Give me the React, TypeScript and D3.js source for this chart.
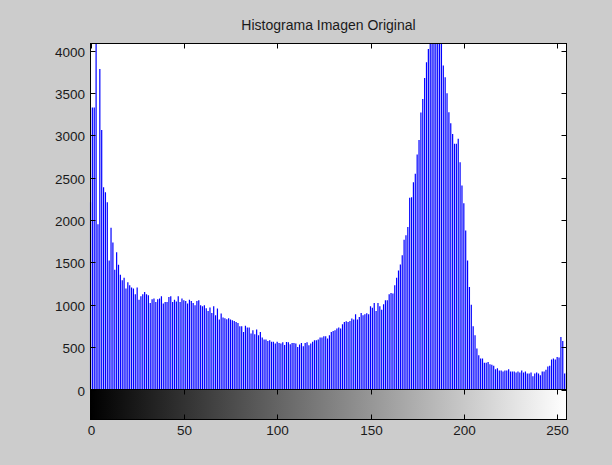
import React from 'react';
import * as d3 from 'd3';

// Gray levels (bins) of the histogram
const grayLevels: number[] = d3.range(0, 256);

// Pixel counts per gray level
const pixelCounts: number[] = [
  // 0-11
  2210, 3330, 3330, 4400, 1950, 3785, 3065, 2389, 2330, 2212, 1524, 1910,
  // 12-40
  1737, 1415, 1619, 1474, 1356, 1289, 1320, 1191, 1265, 1230, 1203, 1191, 1124, 1203, 1061, 1100,
  1124, 1151, 1124, 1112, 1021, 1065, 1073, 1033, 1065, 1073, 1100, 1014, 1033,
  // 41-84
  1033, 1092, 1100, 1033, 1060, 1040, 1100, 1033, 1073, 1053, 1045, 1014, 1060, 1045, 1022, 994,
  1045, 1053, 994, 982, 994, 960, 927, 967, 904, 982, 876, 955, 825, 896, 849, 841, 830, 841, 825,
  817, 809, 797, 786, 747, 747, 680, 754, 731,
  // 85-126
  731, 660, 699, 652, 707, 640, 679, 613, 589, 589, 573, 581, 565, 565, 542, 565, 550, 542, 557,
  526, 560, 557, 534, 550, 550, 542, 502, 530, 550, 510, 550, 557, 522, 542, 565, 581, 581, 589,
  613, 613, 628, 628,
  // 127-170
  602, 641, 680, 692, 700, 719, 731, 719, 770, 798, 805, 798, 809, 837, 825, 888, 825, 856, 903,
  876, 888, 900, 888, 982, 966, 1021, 927, 1021, 982, 943, 1006, 1053, 1053, 1124, 1139, 1132,
  1230, 1320, 1406, 1477, 1584, 1769, 1820, 1918,
  // 171-212
  2263, 2271, 2448, 2546, 2774, 2947, 3270, 3431, 3679, 3864, 4020, 4300, 4500, 4400, 4600, 4350,
  4250, 4100, 3825, 3687, 3498, 3274, 3144, 3018, 2900, 2900, 2959, 2684, 2409, 2200, 1878, 1524,
  1210, 1000, 747, 641, 484, 405, 366, 366, 315, 315,
  // 213-255
  326, 299, 291, 279, 240, 252, 224, 224, 212, 224, 224, 240, 212, 212, 212, 200, 212, 200, 224,
  200, 212, 189, 189, 200, 157, 189, 200, 189, 169, 212, 212, 232, 271, 279, 354, 366, 354, 385,
  378, 621, 574, 189, 200,
];

const yTickValues: number[] = [0, 500, 1000, 1500, 2000, 2500, 3000, 3500, 4000];
const xTickValues: number[] = [0, 50, 100, 150, 200, 250];
const titleText = 'Histograma Imagen Original';

const W = 612;
const H = 465;
const LEFT = 90.5;
const RIGHT = 566.5;
const TOP = 43.5;
const BOTTOM = 389.5;
const CB_BOTTOM = 419.5;
const TICK = 5;
const FONT = '"Liberation Sans", Arial, Helvetica, sans-serif';

export default function App() {
  const x = d3.scaleLinear().domain([0, 255]).range([LEFT, RIGHT]);
  const y = d3.scaleLinear().domain([0, 4085]).range([BOTTOM, TOP]);

  return (
    <svg
      width={W}
      height={H}
      style={{ position: 'absolute', left: 0, top: 0, display: 'block' }}
      fontFamily={FONT}
    >
      <defs>
        <clipPath id="plotClip">
          <rect x={LEFT - 1} y={TOP} width={RIGHT - LEFT + 2} height={BOTTOM - TOP} />
        </clipPath>
        <linearGradient
          id="grayRamp"
          gradientUnits="userSpaceOnUse"
          x1={x(0)}
          x2={x(255)}
          y1={0}
          y2={0}
        >
          <stop offset="0%" stopColor="#000000" />
          <stop offset="100%" stopColor="#ffffff" />
        </linearGradient>
      </defs>

      <rect x={0} y={0} width={W} height={H} fill="#cccccc" />

      {/* Histogram axes background */}
      <rect x={LEFT} y={TOP} width={RIGHT - LEFT} height={BOTTOM - TOP} fill="#ffffff" />

      {/* Stems */}
      <g clipPath="url(#plotClip)">
        {grayLevels.map((g, i) => (
          <line
            key={g}
            x1={x(g)}
            x2={x(g)}
            y1={y(0)}
            y2={y(pixelCounts[i])}
            stroke="#0000ff"
            strokeWidth={1.2}
          />
        ))}
      </g>

      {/* Colorbar */}
      <rect x={LEFT} y={BOTTOM} width={RIGHT - LEFT} height={CB_BOTTOM - BOTTOM} fill="url(#grayRamp)" />

      {/* Histogram axes box */}
      <rect
        x={LEFT}
        y={TOP}
        width={RIGHT - LEFT}
        height={BOTTOM - TOP}
        fill="none"
        stroke="#000"
        strokeWidth={1}
      />
      {/* Colorbar box */}
      <rect
        x={LEFT}
        y={BOTTOM}
        width={RIGHT - LEFT}
        height={CB_BOTTOM - BOTTOM}
        fill="none"
        stroke="#000"
        strokeWidth={1}
      />

      {/* Y ticks (left & right) */}
      {yTickValues.map((v) => {
        const yy = Math.round(y(v)) + 0.5;
        return (
          <g key={`y${v}`}>
            <line x1={LEFT} x2={LEFT + TICK} y1={yy} y2={yy} stroke="#000" />
            <line x1={RIGHT - TICK} x2={RIGHT} y1={yy} y2={yy} stroke="#000" />
            <text
              x={85}
              y={yy + 5}
              textAnchor="end"
              fontSize={13.5}
              fill="#1a1a1a"
            >
              {v}
            </text>
          </g>
        );
      })}

      {/* X ticks: top of histogram axes, top & bottom of colorbar */}
      {xTickValues.map((v) => {
        const xx = Math.round(x(v)) + 0.5;
        return (
          <g key={`x${v}`}>
            <line x1={xx} x2={xx} y1={TOP} y2={TOP + TICK} stroke="#000" />
            <line x1={xx} x2={xx} y1={BOTTOM} y2={BOTTOM + TICK} stroke="#000" />
            <line x1={xx} x2={xx} y1={CB_BOTTOM - TICK} y2={CB_BOTTOM} stroke="#000" />
            <text x={xx} y={435} textAnchor="middle" fontSize={13.5} fill="#1a1a1a">
              {v}
            </text>
          </g>
        );
      })}

      {/* Title */}
      <text
        x={(LEFT + RIGHT) / 2}
        y={30}
        textAnchor="middle"
        fontSize={14}
        fill="#1a1a1a"
      >
        {titleText}
      </text>
    </svg>
  );
}
